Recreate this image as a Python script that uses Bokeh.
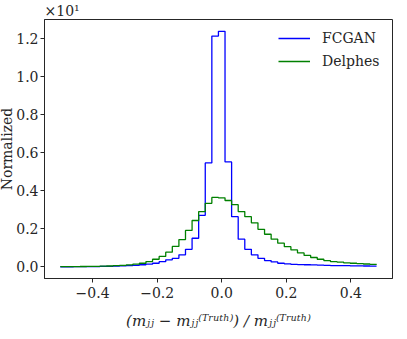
import numpy as np
from bokeh.plotting import figure
from bokeh.models import Range1d, FixedTicker, CustomJSTickFormatter, Legend, LegendItem
from bokeh.embed import file_html
from bokeh.resources import INLINE

# histogram binning (left edges of 49 bins spanning -0.5 .. 0.5)
bin_lo, bin_hi, n_edges = -0.5, 0.5, 50
edges = np.linspace(bin_lo, bin_hi, n_edges)
x_left = edges[:-1]

# normalized densities (actual values; axis shows them x10^1)
fcgan = [0.005, 0.007, 0.008, 0.010, 0.013, 0.017, 0.022, 0.030, 0.040, 0.050,
         0.060, 0.080, 0.110, 0.140, 0.190, 0.270, 0.370, 0.450, 0.630, 0.920,
         1.50, 2.70, 5.45, 12.10, 12.35, 5.50, 2.63, 1.45, 0.92, 0.63,
         0.45, 0.33, 0.26, 0.19, 0.16, 0.13, 0.12, 0.11, 0.10, 0.09,
         0.08, 0.07, 0.065, 0.06, 0.055, 0.05, 0.045, 0.04, 0.04]
delphes = [0.010, 0.012, 0.015, 0.018, 0.022, 0.028, 0.035, 0.045, 0.060, 0.080,
           0.100, 0.140, 0.190, 0.280, 0.400, 0.550, 0.770, 1.07, 1.43, 1.91,
           2.43, 2.90, 3.33, 3.64, 3.62, 3.48, 3.26, 2.90, 2.63, 2.31,
           1.97, 1.71, 1.45, 1.24, 1.06, 0.89, 0.73, 0.60, 0.49, 0.40,
           0.33, 0.28, 0.25, 0.21, 0.19, 0.17, 0.15, 0.13, 0.12]

x_ticks = [-0.4, -0.2, 0.0, 0.2, 0.4]
y_ticks = [0, 2, 4, 6, 8, 10, 12]
series_names = ["FCGAN", "Delphes"]
x_label = "(mⱼⱼ − mⱼⱼ⁽ᵀʳᵘᵗʰ⁾) / mⱼⱼ⁽ᵀʳᵘᵗʰ⁾"
y_label = "Normalized"
offset_text = "×10¹"

FONT = "'DejaVu Serif', 'Liberation Serif', serif"
TXT = "#262626"

p = figure(width=397, height=335, output_backend="svg", toolbar_location=None,
           x_range=Range1d(-0.549, 0.529), y_range=Range1d(-0.61, 12.97),
           min_border_left=46, min_border_right=1, min_border_top=0, min_border_bottom=57,
           styles={"margin-top": "0px", "margin-left": "-4px", "margin-bottom": "-8px"})

p.title.text = offset_text
p.title.align = "left"
p.title.text_font = FONT
p.title.text_font_size = "14px"
p.title.text_font_style = "normal"
p.title.text_color = TXT
p.title.standoff = 1
p.title.offset = 0

p.xgrid.visible = False
p.ygrid.visible = False
p.outline_line_color = TXT
p.outline_line_width = 1
p.background_fill_color = "white"
p.border_fill_color = "white"

for ax in (p.xaxis[0], p.yaxis[0]):
    ax.axis_line_color = TXT
    ax.major_tick_line_color = TXT
    ax.major_tick_out = 4
    ax.major_tick_in = 0
    ax.minor_tick_line_color = None
    ax.major_label_text_font = FONT
    ax.major_label_text_font_size = "14px"
    ax.major_label_text_color = TXT
    ax.axis_label_text_font = FONT
    ax.axis_label_text_font_size = "14px"
    ax.axis_label_text_color = TXT
    ax.axis_label_text_font_style = "normal"

p.xaxis.ticker = FixedTicker(ticks=x_ticks)
p.yaxis.ticker = FixedTicker(ticks=y_ticks)
p.xaxis.formatter = CustomJSTickFormatter(code="return (Math.abs(tick) < 1e-9 ? 0 : tick).toFixed(1).replace('-', '\u2212');")
p.yaxis.formatter = CustomJSTickFormatter(code="return (tick/10).toFixed(1);")
p.xaxis.major_label_standoff = 4
p.yaxis.major_label_standoff = 2
p.xaxis.axis_label = x_label
p.yaxis.axis_label = y_label
p.xaxis.axis_label_standoff = 11
p.yaxis.axis_label_standoff = -2
p.xaxis.axis_label_text_font_style = "italic"
p.xaxis.axis_label_text_font_size = "15px"

r_f = p.step(x_left, fcgan, mode="after", line_color="blue", line_width=1.3)
r_d = p.step(x_left, delphes, mode="after", line_color="green", line_width=1.3)

legend = Legend(items=[LegendItem(label=series_names[0], renderers=[r_f]),
                       LegendItem(label=series_names[1], renderers=[r_d])],
                location=(229, 202), margin=0, padding=5, spacing=3,
                glyph_width=32, glyph_height=20, label_height=20, label_standoff=12,
                label_text_font=FONT, label_text_font_size="14px", label_text_color=TXT,
                border_line_alpha=0, background_fill_alpha=0)
p.add_layout(legend)

open("out.html", "w").write(file_html(p, INLINE))
